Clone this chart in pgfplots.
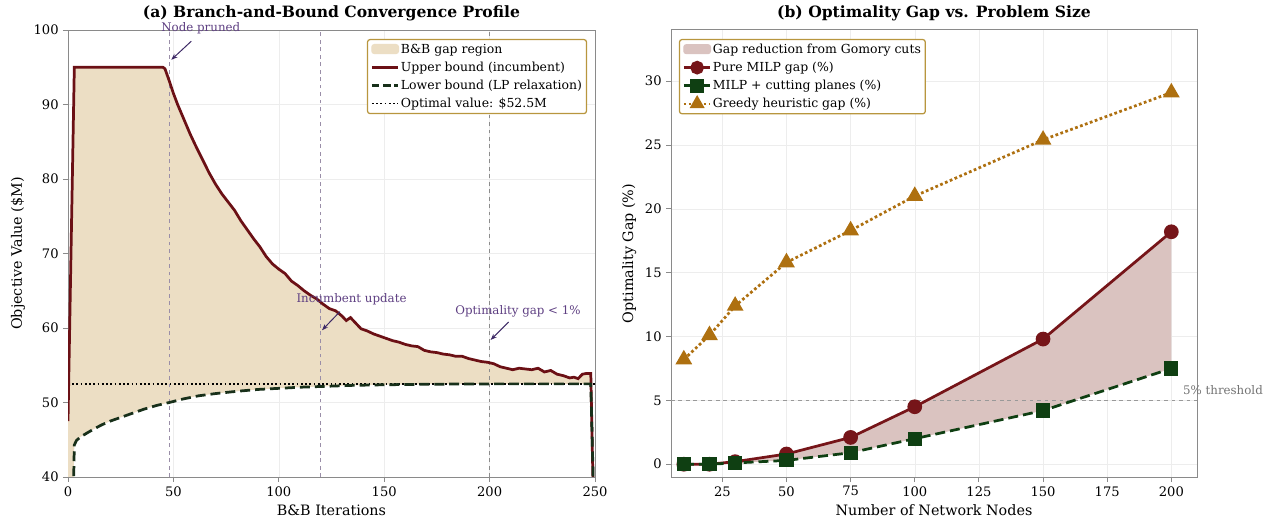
\documentclass[border=0pt]{standalone}
\usepackage{pgfplots}
\pgfplotsset{compat=1.18}
\usepackage{pgfplotstable}
\usepgfplotslibrary{fillbetween}
\usetikzlibrary{arrows.meta}
\usepackage{fontspec}
\setmainfont{DejaVu Serif}

\definecolor{ubred}{HTML}{6B1015}
\definecolor{lbgreen}{HTML}{18301A}
\definecolor{gapfill}{HTML}{ECDEC4}
\definecolor{vline}{HTML}{9A8EA8}
\definecolor{annot}{HTML}{5E3F82}
\definecolor{arrowc}{HTML}{3E2A66}
\definecolor{legframe}{HTML}{B8963E}
\definecolor{milp}{HTML}{761519}
\definecolor{cuts}{HTML}{0F3F12}
\definecolor{greedy}{HTML}{AE7010}
\definecolor{cutfill}{HTML}{DAC3C0}
\definecolor{spine}{HTML}{8A8A8A}

% upper bound (incumbent)
\pgfplotstableread{
x y
0 47.5
3 95
45 95
46 94.8
48 93.2
50 91.5
52 90.0
55 88.0
58 86.0
61 84.2
64 82.5
67 80.8
70 79.3
73 78.0
76 76.9
79 75.8
82 74.4
85 73.2
88 72.0
91 70.9
94 69.6
97 68.6
100 67.9
103 67.3
106 66.3
109 65.7
112 65.0
115 64.4
118 63.9
121 63.2
124 62.6
127 62.3
130 61.6
132 61.0
134 61.4
136 60.8
139 59.9
142 59.6
145 59.2
148 58.9
151 58.6
154 58.3
157 58.1
160 57.8
163 57.6
166 57.5
169 57.0
172 56.8
175 56.7
178 56.5
181 56.4
184 56.2
187 56.2
190 55.9
193 55.7
196 55.5
199 55.4
202 55.2
205 54.8
208 54.6
211 54.4
214 54.6
217 54.5
220 54.4
223 54.6
226 54.1
229 54.3
232 53.8
235 53.6
238 53.3
240 53.4
242 53.2
244 53.8
246 53.9
248 53.9
249 40
250 36
}\upperdata

% lower bound (LP relaxation)
\pgfplotstableread{
x y
0 0
3 44.3
4 44.9
6 45.4
9 45.9
12 46.4
16 47.0
20 47.5
25 48.0
30 48.5
36 49.1
42 49.6
48 50.0
55 50.5
62 50.9
70 51.2
80 51.5
90 51.75
100 51.9
110 52.05
120 52.15
135 52.3
150 52.38
170 52.45
200 52.5
230 52.5
248 52.5
250 30
}\lowerdata

\pgfplotstableread{
x pure cuts greedy
10 0.0 0.0 8.2
20 0.0 0.0 10.1
30 0.2 0.1 12.4
50 0.8 0.3 15.8
75 2.1 0.9 18.3
100 4.5 2.0 21.0
150 9.8 4.2 25.4
200 18.2 7.5 29.1
}\gapdata

\pgfplotsset{
  mpl/.style={
    scale only axis,
    axis line style={spine, line width=0.8pt},
    tick align=outside,
    major tick length=4bp,
    tick style={spine, line width=0.7pt},
    xtick pos=bottom, ytick pos=left,
    grid=major,
    major grid style={black!7, line width=0.4pt},
    ticklabel style={font=\fontsize{10.5}{12}\selectfont},
    /pgf/number format/assume math mode=true,
    label style={font=\fontsize{11.5}{13}\selectfont},
    title style={font=\bfseries\fontsize{12.5}{14}\selectfont, yshift=-2bp},
    legend style={font=\fontsize{10}{12}\selectfont, draw=legframe, line width=1pt,
      rounded corners=2pt, fill=white, inner sep=2.5pt, row sep=3.4pt,
      nodes={inner sep=1pt}},
    legend image post style={scale=1.25},
    legend cell align=left,
    clip mode=individual,
  },
  patch legend/.style={legend image code/.code={
      \fill[##1] (0cm,-0.09cm) rectangle (0.6cm,0.11cm);}},
}

\begin{document}
\begin{tikzpicture}

\begin{axis}[mpl,
  at={(0bp,0bp)}, anchor=south west,
  width=421.6bp, height=357.6bp,
  xmin=0, xmax=250, ymin=40, ymax=100,
  xtick={0,50,...,250}, ytick={40,50,...,100},
  title={(a) Branch-and-Bound Convergence Profile},
  xlabel={B\&B Iterations},
  ylabel={Objective Value (\$M)},
  legend style={at={(0.985,0.98)}, anchor=north east},
]
\addplot[draw=none, name path=U, forget plot] table[x=x,y=y] {\upperdata};
\addplot[draw=none, name path=L, forget plot] table[x=x,y=y] {\lowerdata};
\addplot[fill=gapfill, draw=none, forget plot] fill between[of=U and L];

\addplot[vline, dashed, line width=0.8pt, forget plot] coordinates {(48,40) (48,100)};
\addplot[vline, dashed, line width=0.8pt, forget plot] coordinates {(120,40) (120,100)};
\addplot[black!45, dashed, line width=0.8pt, forget plot] coordinates {(200,40) (200,100)};

\addplot[black, dotted, line width=1.4pt, forget plot] coordinates {(0,52.5) (250,52.5)};
\addplot[ubred, line width=2.2pt, forget plot] table[x=x,y=y] {\upperdata};
\addplot[lbgreen, dash pattern=on 8pt off 4pt, line width=2.2pt, forget plot] table[x=x,y=y] {\lowerdata};

\addlegendimage{patch legend, gapfill}
\addlegendentry{B\&B gap region}
\addlegendimage{ubred, line width=2pt}
\addlegendentry{Upper bound (incumbent)}
\addlegendimage{lbgreen, dash pattern=on 6pt off 3pt, line width=2pt}
\addlegendentry{Lower bound (LP relaxation)}
\addlegendimage{black, dotted, line width=1.4pt}
\addlegendentry{Optimal value: \$52.5M}

\begin{scope}[font=\fontsize{9.5}{11}\selectfont]
\node[annot] at (axis cs:63,100.3) {Node pruned};
\draw[arrowc, -{Stealth[length=5pt]}, line width=0.8pt] (axis cs:58.5,98.5) -- (axis cs:49,96);
\node[annot] at (axis cs:134.5,63.8) {Incumbent update};
\draw[arrowc, -{Stealth[length=5pt]}, line width=0.8pt] (axis cs:129,62.2) -- (axis cs:120.5,59.7);
\node[annot] at (axis cs:213.5,62.3) {Optimality gap < 1\%};
\draw[arrowc, -{Stealth[length=5pt]}, line width=0.8pt] (axis cs:209,60.8) -- (axis cs:200.5,58.4);
\end{scope}
\end{axis}

\begin{axis}[mpl,
  at={(482.4bp,0bp)}, anchor=south west,
  width=420.8bp, height=357.6bp,
  xmin=5, xmax=210, ymin=-1, ymax=34,
  xtick={25,50,...,200}, ytick={0,5,...,30},
  title={(b) Optimality Gap vs. Problem Size},
  xlabel={Number of Network Nodes},
  ylabel={Optimality Gap (\%)},
  legend style={at={(0.015,0.98)}, anchor=north west},
]
\addplot[draw=none, name path=P, forget plot] table[x=x,y=pure] {\gapdata};
\addplot[draw=none, name path=C, forget plot] table[x=x,y=cuts] {\gapdata};
\addplot[fill=cutfill, draw=none, forget plot] fill between[of=P and C];
\addplot[black!40, dashed, line width=0.8pt, forget plot] coordinates {(5,5) (210,5)};

\addplot[milp, line width=2.2pt, mark=*, mark size=4.8pt, mark options={solid, fill=milp}, forget plot] table[x=x,y=pure] {\gapdata};
\addplot[cuts, dash pattern=on 8pt off 4pt, line width=2.2pt, mark=square*, mark size=4.6pt, mark options={solid, fill=cuts}, forget plot] table[x=x,y=cuts] {\gapdata};
\addplot[greedy, dotted, line width=2.2pt, mark=triangle*, mark size=5.6pt, mark options={solid, fill=greedy}, forget plot] table[x=x,y=greedy] {\gapdata};

\addlegendimage{patch legend, cutfill}
\addlegendentry{Gap reduction from Gomory cuts}
\addlegendimage{milp, line width=2pt, mark=*, mark size=3.6pt, mark options={fill=milp}}
\addlegendentry{Pure MILP gap (\%)}
\addlegendimage{cuts, line width=2pt, mark=square*, mark size=3.6pt, mark options={fill=cuts}}
\addlegendentry{MILP + cutting planes (\%)}
\addlegendimage{greedy, dotted, line width=2pt, mark=triangle*, mark size=4pt, mark options={solid, fill=greedy}}
\addlegendentry{Greedy heuristic gap (\%)}

\node[black!55, anchor=south west, font=\fontsize{9.5}{11}\selectfont, inner sep=1pt] at (axis cs:204,5.3) {5\% threshold};
\end{axis}

\pgfresetboundingbox
\useasboundingbox (-54.4bp,-40bp) rectangle (959.2bp,381.6bp);
\end{tikzpicture}
\end{document}
